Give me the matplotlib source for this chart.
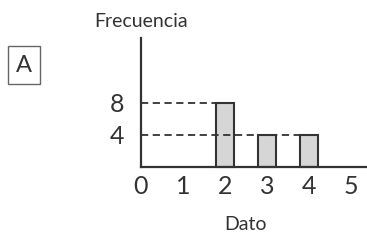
import matplotlib.pyplot as plt

# data
datos = [2, 3, 4]
frecuencias = [8, 4, 4]
x_ticks = [0, 1, 2, 3, 4, 5]
y_ticks = [4, 8]

ink = "#333333"
plt.rcParams["font.family"] = ["Lato", "DejaVu Sans"]

fig = plt.figure(figsize=(3.67, 2.41), dpi=100)
ax = fig.add_axes([0.384, 0.307, 0.616, 0.535])

bar_w = 0.42
ax.bar(datos, frecuencias, width=bar_w, color="#d6d6d6",
       edgecolor=ink, linewidth=1.5, zorder=2, clip_on=False)

# dashed guide lines from the y axis to the bars
ax.plot([0, datos[0] + bar_w / 2], [frecuencias[0]] * 2, ls=(0, (4, 2.5)),
        color=ink, lw=1.3, zorder=3)
ax.plot([0, datos[2] - bar_w / 2], [frecuencias[1]] * 2, ls=(0, (4, 2.5)),
        color=ink, lw=1.3, zorder=3)

ax.set_xlim(0, 5.38)
ax.set_ylim(0, 16.1)
for s in ["top", "right"]:
    ax.spines[s].set_visible(False)
for s in ["left", "bottom"]:
    ax.spines[s].set_color(ink)
    ax.spines[s].set_linewidth(1.6)
    ax.spines[s].set_zorder(4)

ax.set_xticks(x_ticks)
ax.set_yticks(y_ticks)
ax.tick_params(length=0, labelsize=18, colors=ink)
ax.tick_params(axis="x", pad=6)
ax.tick_params(axis="y", pad=12)

fig.text(0.384, 0.91, "Frecuencia", ha="center", va="center",
         fontsize=14, color=ink)
fig.text(0.668, 0.067, "Dato", ha="center", va="center",
         fontsize=14, color=ink)
fig.text(0.065, 0.73, "A", ha="center", va="center", fontsize=17,
         color=ink, bbox=dict(boxstyle="square,pad=0.35", fc="white",
                              ec="#666666", lw=1))

fig.savefig("out.png", dpi=100)
